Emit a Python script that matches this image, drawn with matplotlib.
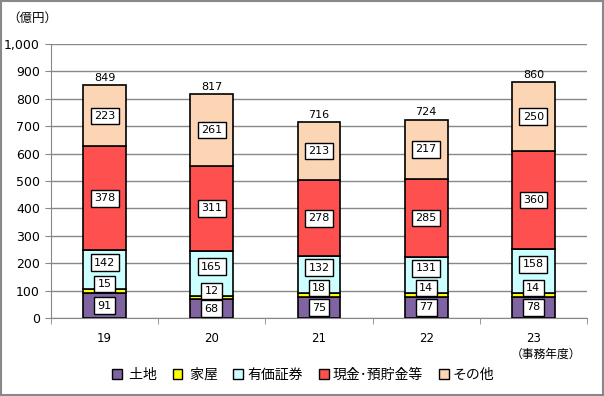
import matplotlib
matplotlib.use('Agg')
from matplotlib import pyplot as plt
from matplotlib.patches import Patch, Rectangle
from matplotlib.ticker import FuncFormatter, FixedLocator
import numpy as np

plt.rcParams['font.family'] = ['Noto Sans CJK JP', 'DejaVu Sans']

years = ['19', '20', '21', '22', '23']
tochi = [91, 68, 75, 77, 78]
kaoku = [15, 12, 18, 14, 14]
yuka = [142, 165, 132, 131, 158]
genkin = [378, 311, 278, 285, 360]
sonota = [223, 261, 213, 217, 250]
totals = [849, 817, 716, 724, 860]

names = [' 土地', ' 家屋', '有価証券', '現金･預貯金等', 'その他']
series = [tochi, kaoku, yuka, genkin, sonota]
colors = ['#8064A2', '#FFFF00', '#CCFFFF', '#FF5050', '#FCD5B5']
# label nudges so small segments don't overlap
nudge = [0, 25, 25, 0, 0]

fig = plt.figure(figsize=(6.04, 3.96), dpi=100)
ax = fig.add_axes([0.0844, 0.197, 0.8874, 0.692])

x = np.arange(len(years))
bottom = np.zeros(len(years))
for vals, col, dy in zip(series, colors, nudge):
    vals = np.array(vals)
    ax.bar(x, vals, 0.4, bottom=bottom, color=col, edgecolor='black', linewidth=1.2, zorder=3)
    for xi, b, v in zip(x, bottom, vals):
        ax.text(xi, b + v / 2 + dy, str(v), ha='center', va='center', fontsize=8,
                family='DejaVu Sans', zorder=5,
                bbox=dict(boxstyle='square,pad=0.3', fc='white', ec='black', lw=1))
    bottom += vals

for xi, t in zip(x, totals):
    ax.text(xi, t + 8, str(t), ha='center', va='bottom', fontsize=8, family='DejaVu Sans')

ax.set_xlim(-0.5, len(years) - 0.5)
ax.set_ylim(0, 1000)
ax.set_yticks(np.arange(0, 1001, 100))
ax.yaxis.set_major_formatter(FuncFormatter(lambda v, p: f'{int(v):,}'))
ax.grid(axis='y', color='#888888', linewidth=1, zorder=0)
ax.set_xticks(x)
ax.set_xticklabels(years, fontsize=8.5, family='DejaVu Sans')
ax.xaxis.set_minor_locator(FixedLocator(np.arange(0.5, len(years), 1.0).tolist() + [-0.5]))
ax.tick_params(axis='x', which='major', length=0, pad=10)
ax.tick_params(axis='x', which='minor', length=4, color='#888888', direction='out')
ax.tick_params(axis='y', length=4, color='#888888', labelsize=9, pad=4)
for lab in ax.get_yticklabels():
    lab.set_family('DejaVu Sans')
for s in ['top', 'right']:
    ax.spines[s].set_visible(False)
for s in ['left', 'bottom']:
    ax.spines[s].set_color('#888888')

fig.text(0.012, 0.955, '（億円）', fontsize=9, ha='left', va='center')
fig.text(0.962, 0.105, '（事務年度）', fontsize=8.5, ha='right', va='center')

handles = [Patch(facecolor=c, edgecolor='black', linewidth=1) for c in colors]
fig.legend(handles, names, loc='center', bbox_to_anchor=(0.502, 0.053), ncol=5, frameon=False,
           fontsize=10, handlelength=0.7, handleheight=0.7, handletextpad=0.3, columnspacing=1.15)

fig.patches.append(Rectangle((0.002, 0.003), 0.996, 0.994, transform=fig.transFigure,
                             fill=False, edgecolor='#888888', linewidth=1.5))

fig.savefig('out.png', dpi=100)
